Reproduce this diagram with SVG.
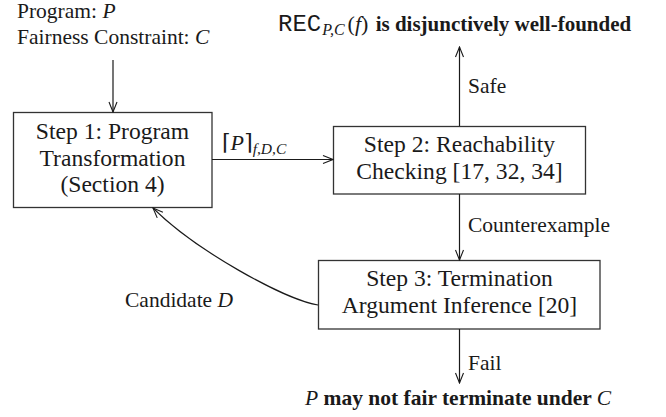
<svg xmlns="http://www.w3.org/2000/svg" width="666" height="417" viewBox="0 0 666 417">
<defs>
<style>
text{font-family:'Liberation Serif','DejaVu Serif',serif;fill:#1a1a1a}
.box{fill:#fff;stroke:#333;stroke-width:1.3}
.bt{font-size:23.6px;text-anchor:middle}
.lb{font-size:21.5px}
.it{font-style:italic}
.bd{font-weight:bold}
.mono{font-family:'Liberation Mono','DejaVu Sans Mono',monospace}
.edge{fill:none;stroke:#1a1a1a;stroke-width:1.2}
</style>
<marker id="arr" viewBox="0 0 12 12" refX="11" refY="6" markerWidth="12" markerHeight="12" markerUnits="userSpaceOnUse" orient="auto">
<path d="M1,2 L11,6 L1,10" fill="none" stroke="#1a1a1a" stroke-width="1.1"/>
</marker>
</defs>

<g id="inputs">
<text class="lb" x="17" y="18">Program: <tspan class="it">P</tspan></text>
<text class="lb" x="17" y="44">Fairness Constraint: <tspan class="it">C</tspan></text>
</g>

<g id="result-safe">
<text x="278" y="31" font-size="21px"><tspan class="mono" font-size="24px">REC</tspan><tspan class="it" font-size="16px" dy="4" dx="1">P,C</tspan><tspan dy="-4" dx="3" font-size="22px">(</tspan><tspan class="it" font-size="22px">f</tspan><tspan font-size="22px">)</tspan><tspan class="bd" dx="2"> is disjunctively well-founded</tspan></text>
</g>

<g id="step1">
<rect class="box" x="13.5" y="112.5" width="198.5" height="95"/>
<text class="bt" x="112.5" y="139">Step 1: Program</text>
<text class="bt" x="112.5" y="165.5">Transformation</text>
<text class="bt" x="112.5" y="192">(Section 4)</text>
</g>

<g id="step2">
<rect class="box" x="333.5" y="126.5" width="252" height="67.5"/>
<text class="bt" x="459.5" y="152">Step 2: Reachability</text>
<text class="bt" x="459.5" y="179">Checking [17, 32, 34]</text>
</g>

<g id="step3">
<rect class="box" x="318.5" y="260.5" width="281.5" height="68.5"/>
<text class="bt" x="459.5" y="285.5">Step 3: Termination</text>
<text class="bt" x="459.5" y="313">Argument Inference [20]</text>
</g>

<g id="result-fail">
<text x="305" y="405" font-size="21.5px"><tspan class="it">P</tspan><tspan class="bd"> may not fair terminate under </tspan><tspan class="it">C</tspan></text>
</g>

<g id="connectors">
<line class="edge" x1="113" y1="60" x2="113" y2="112" marker-end="url(#arr)"/>
<line class="edge" x1="212" y1="159.5" x2="333" y2="159.5" marker-end="url(#arr)"/>
<line class="edge" x1="459.5" y1="126" x2="459.5" y2="47" marker-end="url(#arr)"/>
<line class="edge" x1="459.5" y1="194" x2="459.5" y2="260" marker-end="url(#arr)"/>
<line class="edge" x1="459.5" y1="329" x2="459.5" y2="383" marker-end="url(#arr)"/>
<path class="edge" d="M318,305 C285,300 195,250 153,208" marker-end="url(#arr)"/>
<text x="222" y="150" font-size="22px">⌈<tspan class="it">P</tspan>⌉<tspan class="it" font-size="15.5px" dy="4">f,D,C</tspan></text>
<text class="lb" x="468" y="93">Safe</text>
<text class="lb" x="468" y="232">Counterexample</text>
<text class="lb" x="468" y="370">Fail</text>
<text class="lb" x="125" y="307">Candidate <tspan class="it">D</tspan></text>
</g>
</svg>
